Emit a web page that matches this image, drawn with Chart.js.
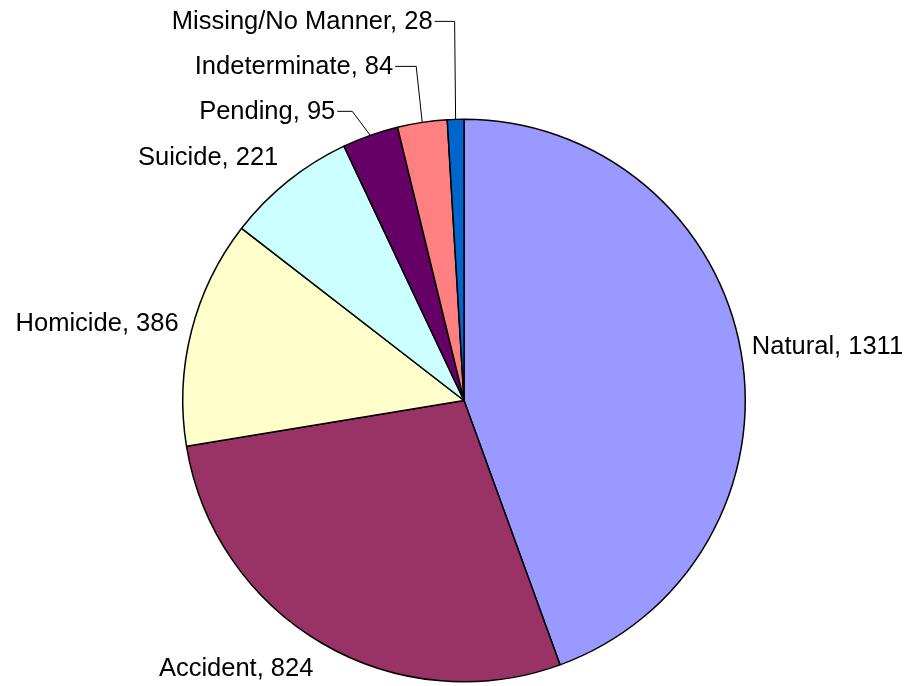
<!DOCTYPE html>
<html>
<head>
<meta charset="utf-8">
<script src="https://cdn.jsdelivr.net/npm/chart.js@4"></script>
<style>
html,body{margin:0;padding:0;background:#fff;}
#wrap{width:904px;height:686px;position:relative;}
</style>
</head>
<body>
<div id="wrap"><canvas id="c" width="904" height="686"></canvas></div>
<script>
// ---- data ----
const categories = ["Natural", "Accident", "Homicide", "Suicide", "Pending", "Indeterminate", "Missing/No Manner"];
const counts = [1311, 824, 386, 221, 95, 84, 28];

// ---- styles ----
const sliceColors = ["#9999FF", "#993366", "#FFFFCC", "#CCFFFF", "#660066", "#FF8080", "#0066CC"];
const labelFont = '25.5px "Liberation Sans", Arial, sans-serif';
// leader-line label elbows (offset from slice edge midpoint), by category index
const leaderStyle = {
  4: {dx: -18, dy: -24, seg: 15},
  5: {dx: -6, dy: -56, seg: 21},
  6: {dx: -1, dy: -98, seg: 20}
};

const labelPlugin = {
  id: 'pieLabels',
  afterDatasetsDraw(chart) {
    const ctx = chart.ctx;
    const meta = chart.getDatasetMeta(0);
    ctx.save();
    ctx.font = labelFont;
    ctx.fillStyle = '#000';
    ctx.strokeStyle = '#000';
    ctx.lineWidth = 1;
    meta.data.forEach((arc, i) => {
      const p = arc.getProps(['x','y','startAngle','endAngle','outerRadius'], true);
      const mid = (p.startAngle + p.endAngle) / 2;
      const c = Math.cos(mid), s = Math.sin(mid);
      const text = categories[i] + ', ' + counts[i];
      const ex = p.x + c * p.outerRadius, ey = p.y + s * p.outerRadius;
      const L = leaderStyle[i];
      if (L) {
        const bx = ex + L.dx, by = ey + L.dy;
        const tx = bx - L.seg;
        ctx.beginPath();
        ctx.moveTo(ex, ey);
        ctx.lineTo(bx, by);
        ctx.lineTo(tx, by);
        ctx.stroke();
        ctx.textAlign = 'right';
        ctx.textBaseline = 'middle';
        ctx.fillText(text, tx - 2, by + 1);
      } else {
        const r = p.outerRadius + 9;
        const px = p.x + c * r, py = p.y + s * r;
        ctx.textAlign = c >= 0 ? 'left' : 'right';
        ctx.textBaseline = 'middle';
        const x = px + (c >= 0 ? 2 : -4);
        const y = py + s * 25 * 0.85;
        ctx.fillText(text, x, y);
      }
    });
    ctx.restore();
  }
};

new Chart(document.getElementById('c'), {
  type: 'pie',
  data: {
    labels: categories,
    datasets: [{
      data: counts,
      backgroundColor: sliceColors,
      borderColor: '#000000',
      borderWidth: 1.5
    }]
  },
  options: {
    responsive: false,
    animation: false,
    layout: {padding: {left: 182, right: 158, top: 118, bottom: 3}},
    plugins: {legend: {display: false}, tooltip: {enabled: false}}
  },
  plugins: [labelPlugin]
});
</script>
</body>
</html>
